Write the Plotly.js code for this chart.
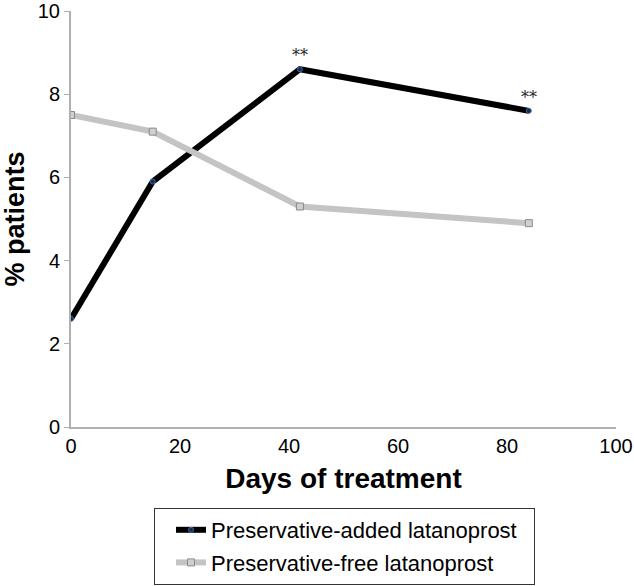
<!DOCTYPE html>
<html>
<head>
<meta charset="utf-8">
<script src="https://cdn.plot.ly/plotly-3.0.1.min.js"></script>
<style>html,body{margin:0;padding:0;background:#fff;}#chart{width:634px;height:586px;}</style>
</head>
<body>
<div id="chart"></div>
<script>
const days = [0, 15, 42, 84];
const preservativeAdded = [2.6, 5.9, 8.6, 7.6];
const preservativeFree = [7.5, 7.1, 5.3, 4.9];
const seriesNames = ["Preservative-added latanoprost", "Preservative-free latanoprost"];
const sigDays = [42, 84];
const sigValues = [8.6, 7.6];
const sigLabels = ["**", "**"];

const font = "Liberation Sans, Arial, Helvetica, sans-serif";
const pad = "\u00a0\u00a0";

const traces = [
  {
    x: days, y: preservativeAdded, name: seriesNames[0] + pad, type: "scatter", mode: "lines+markers",
    legendgroup: "a",
    line: {color: "#000000", width: 6},
    marker: {symbol: "circle", size: 5, color: "#1a2a44", line: {color: "#3b6aa8", width: 1}}
  },
  {
    x: days, y: preservativeFree, name: seriesNames[1] + pad, type: "scatter", mode: "lines+markers",
    legendgroup: "b",
    line: {color: "#c4c4c4", width: 6},
    marker: {symbol: "square", size: 7, color: "#cfcfcf", line: {color: "#8a8a8a", width: 1}}
  }
];

const annotations = sigDays.map((d, i) => ({
  x: d, y: sigValues[i], xref: "x", yref: "y", text: sigLabels[i], showarrow: false,
  yanchor: "bottom", yshift: 2, font: {family: "DejaVu Serif, serif", size: 16, color: "#222"}
}));

// plot area: left 71, right 616, top 11, bottom 427 (pixels)
const layout = {
  width: 634, height: 586,
  margin: {l: 71, r: 0, t: 11, b: 159},
  paper_bgcolor: "#fff", plot_bgcolor: "#fff",
  font: {family: font, color: "#000"},
  showlegend: true,
  legend: {
    x: (154 - 71) / 545 * (545 / 563), y: (427 - 508) / 416, xanchor: "left", yanchor: "top",
    bordercolor: "#333", borderwidth: 1, bgcolor: "#fff",
    indentation: 16, tracegroupgap: 1, traceorder: "grouped",
    font: {family: font, size: 22, color: "#000"}
  },
  xaxis: {
    domain: [0, 545 / 563],
    range: [0, 100], tickvals: [0, 20, 40, 60, 80, 100],
    showgrid: false, zeroline: false, showline: true, linecolor: "#b0b0b0", linewidth: 2,
    ticks: "", ticklabeloverflow: "allow", tickfont: {family: font, size: 20, color: "#000"},
    title: {text: "<b>Days of treatment</b>", font: {family: font, size: 28, color: "#000"}, standoff: 12}
  },
  yaxis: {
    range: [0, 10], tickvals: [0, 2, 4, 6, 8, 10],
    showgrid: false, zeroline: false, showline: true, linecolor: "#b0b0b0", linewidth: 2,
    ticks: "outside", ticklen: 5, tickcolor: "#b0b0b0", ticklabeloverflow: "allow",
    tickfont: {family: font, size: 20, color: "#000"},
    title: {text: "<b>% patients</b>", font: {family: font, size: 27, color: "#000"}, standoff: 16}
  },
  annotations: annotations
};

Plotly.newPlot("chart", traces, layout, {displayModeBar: false, staticPlot: true});
</script>
</body>
</html>
